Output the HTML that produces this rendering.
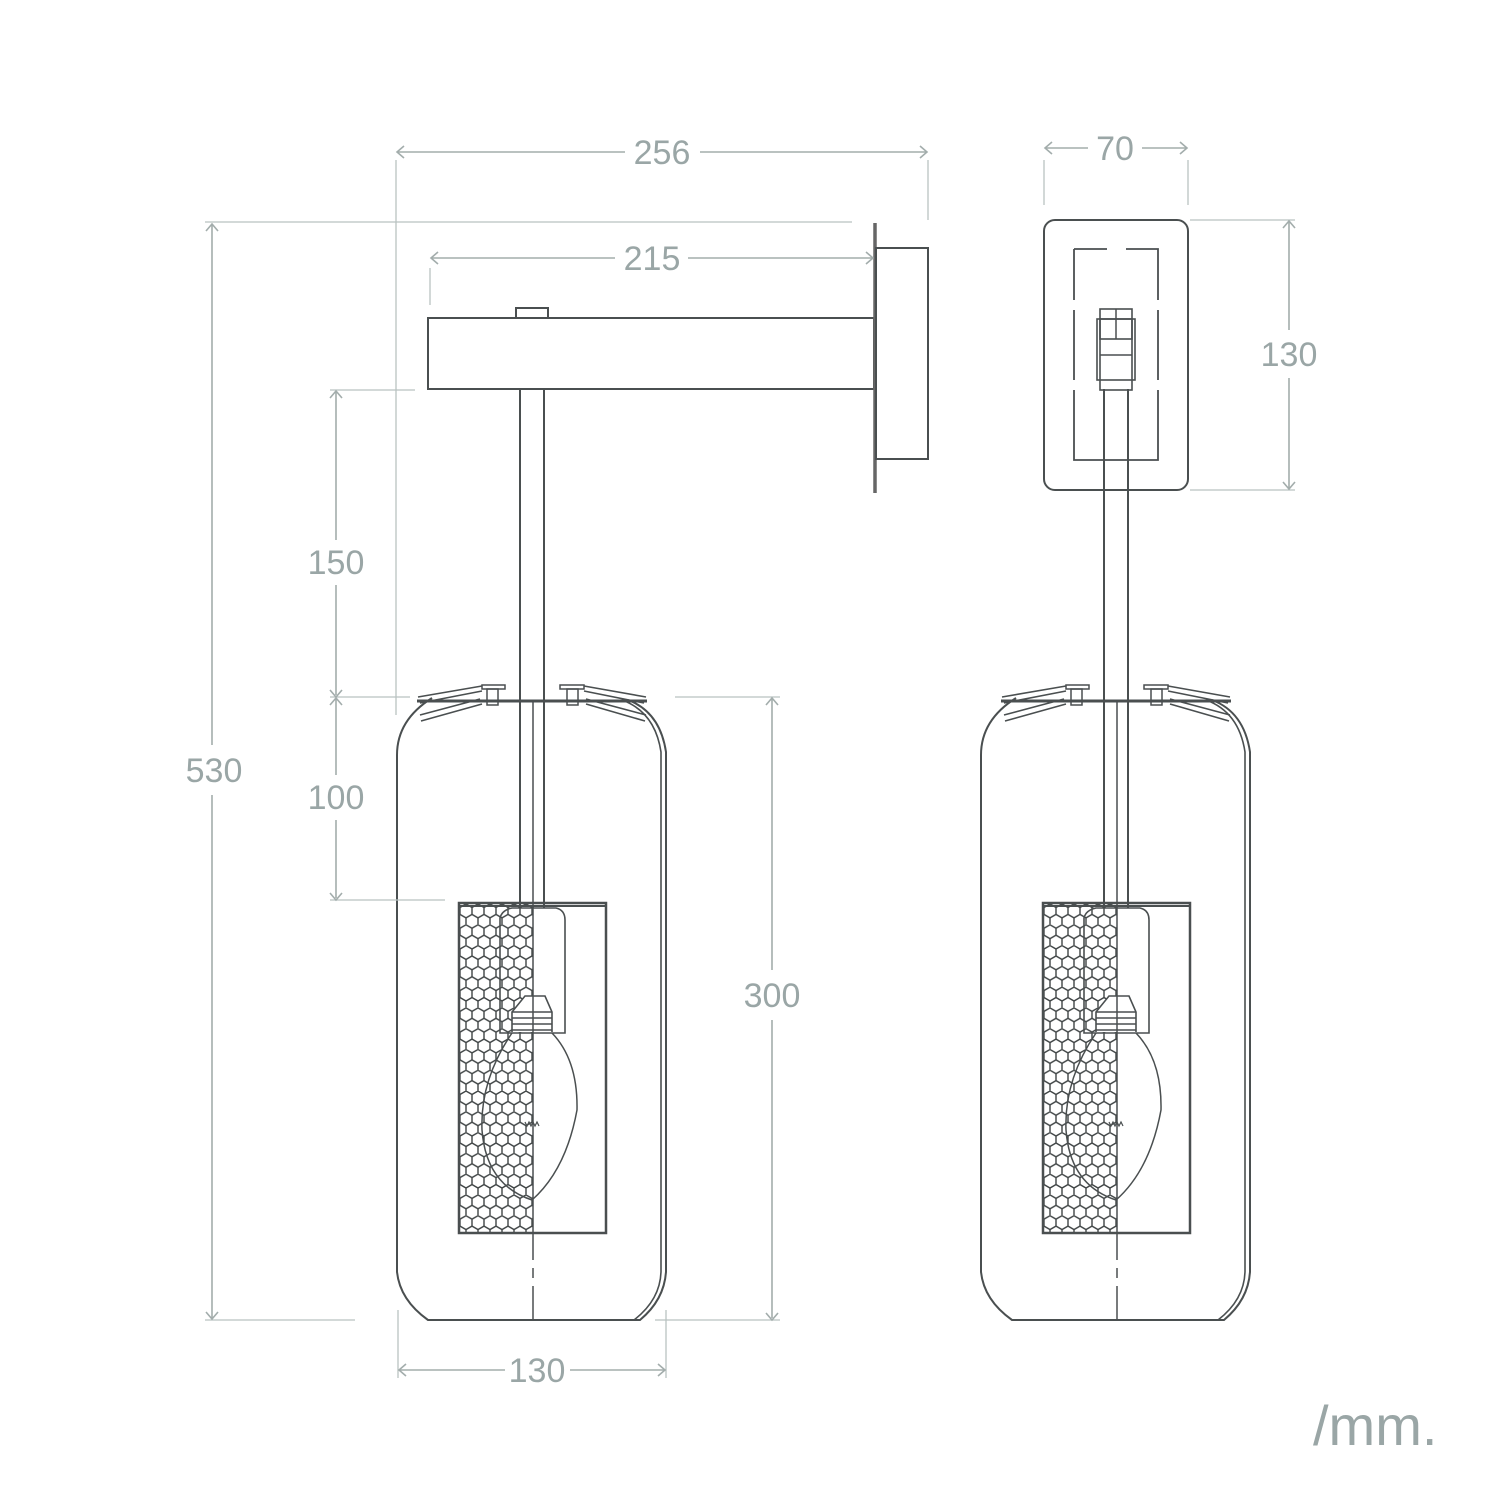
<!DOCTYPE html>
<html><head><meta charset="utf-8"><style>
html,body{margin:0;padding:0;background:#fff;}
svg{display:block;}
text{font-family:"Liberation Sans",sans-serif;fill:#9aa6a6;}
</style></head><body>
<svg width="1500" height="1500" viewBox="0 0 1500 1500" xmlns="http://www.w3.org/2000/svg">
<defs>
<pattern id="hex" x="460" y="904" width="12" height="20.78" patternUnits="userSpaceOnUse">
<path d="M6,0 L12,3.46 L12,10.39 L6,13.86 L0,10.39 L0,3.46 Z M6,13.86 L6,20.78" fill="none" stroke="#3f4445" stroke-width="1.4"/>
</pattern>
<g id="lamp" fill="none" stroke="#4a4f50" stroke-width="2">
  <path d="M432,698 Q397,720 397,755 L397,1272 Q400,1300 428,1320 L640,1320 Q664,1300 666,1272 L666,752 Q660,712 628,700"/>
  <path d="M622,700 Q655,712 661,752 L661,1272 Q660,1300 634,1320" stroke-width="1.6"/>
  <line x1="520" y1="389" x2="520" y2="908"/>
  <line x1="544" y1="389" x2="544" y2="908"/>
  <line x1="417" y1="701" x2="647" y2="701" stroke-width="3"/>
  <path d="M418,697 L482,686 M420,703 L482,691" stroke-width="1.6"/>
  <path d="M420,715 L480,699 M421,721 L482,704" stroke-width="1.6"/>
  <path d="M646,697 L584,686 M644,703 L584,691" stroke-width="1.6"/>
  <path d="M646,715 L586,699 M645,721 L586,704" stroke-width="1.6"/>
  <rect x="482" y="685" width="23" height="4" stroke-width="1.5"/>
  <rect x="487" y="689" width="11" height="16" stroke-width="1.5"/>
  <rect x="560" y="685" width="24" height="4" stroke-width="1.5"/>
  <rect x="567" y="689" width="11" height="16" stroke-width="1.5"/>
  <rect x="460" y="904" width="73" height="328" fill="url(#hex)" stroke="none"/>
  <rect x="459" y="903" width="147" height="330" stroke-width="2.5"/>
  <line x1="459" y1="906" x2="606" y2="906" stroke-width="2"/>
  <path d="M500,1033 L500,918 Q502,910 512,908 L556,908 Q565,910 565,920 L565,1033 Z" stroke-width="1.6"/>
  <path d="M512,1032 L512,1012 L525,996 L545,996 L552,1012 L552,1032" stroke-width="1.6" fill="#fff"/>
  <path d="M512,1012 L552,1012 M512,1018 L552,1018 M512,1024 L552,1024 M512,1030 L552,1030" stroke-width="1.5"/>
  <path d="M512,1033 Q480,1080 482,1130 Q486,1185 532,1200 Q566,1170 577,1110 Q578,1060 552,1033" stroke-width="1.5"/>
  <path d="M525,1122 l2,4 l2,-4 l2,4 l2,-4 l2,4 l2,-4 l2,4" stroke-width="1.2"/>
  <line x1="533" y1="905" x2="533" y2="1260" stroke-width="1.5"/>
  <line x1="533" y1="1268" x2="533" y2="1278" stroke-width="1.5"/>
  <line x1="533" y1="1286" x2="533" y2="1320" stroke-width="1.5"/>
  <line x1="533" y1="701" x2="533" y2="908" stroke-width="1.5"/>
</g>
</defs>

<g fill="none" stroke="#4a4f50" stroke-width="2">
  <rect x="428" y="318" width="446" height="71"/>
  <rect x="516" y="308" width="32" height="10"/>
  <line x1="875" y1="223" x2="875" y2="493" stroke="#666" stroke-width="3.5"/>
  <rect x="876" y="248" width="52" height="211"/>
</g>
<use href="#lamp"/>

<g fill="none" stroke="#4a4f50" stroke-width="2">
  <rect x="1044" y="220" width="144" height="270" rx="11"/>
  <path d="M1074,249 H1107 M1126,249 H1158 V300 M1158,310 V380 M1158,390 V460 H1074 V390 M1074,380 V310 M1074,300 V249" stroke-width="1.8"/>
  <rect x="1100" y="309" width="32" height="30" stroke-width="1.6"/>
  <line x1="1116" y1="309" x2="1116" y2="339" stroke-width="1.5"/>
  <rect x="1097" y="319" width="38" height="61" stroke-width="1.6"/>
  <rect x="1100" y="319" width="32" height="71" stroke-width="1.6"/>
  <line x1="1100" y1="355" x2="1132" y2="355" stroke-width="1.5"/>
</g>
<g transform="translate(584,0)"><use href="#lamp"/></g>

<g stroke="#b9c2c1" stroke-width="1.3" fill="none">
  <line x1="396" y1="160" x2="396" y2="715"/>
  <line x1="928" y1="160" x2="928" y2="220"/>
  <line x1="430" y1="268" x2="430" y2="305"/>
  <line x1="205" y1="222" x2="852" y2="222"/>
  <line x1="205" y1="1320" x2="355" y2="1320"/>
  <line x1="330" y1="390" x2="415" y2="390"/>
  <line x1="330" y1="697" x2="410" y2="697"/>
  <line x1="330" y1="900" x2="445" y2="900"/>
  <line x1="675" y1="697" x2="780" y2="697"/>
  <line x1="655" y1="1320" x2="780" y2="1320"/>
  <line x1="398" y1="1310" x2="398" y2="1378"/>
  <line x1="666" y1="1310" x2="666" y2="1378"/>
  <line x1="1044" y1="160" x2="1044" y2="205"/>
  <line x1="1188" y1="160" x2="1188" y2="205"/>
  <line x1="1190" y1="220" x2="1295" y2="220"/>
  <line x1="1190" y1="490" x2="1295" y2="490"/>
</g>
<g stroke="#a3adac" stroke-width="1.6" fill="none">
  <path d="M398,152 H625 M700,152 H926 M404,146 L397,152 L404,158 M920,146 L927,152 L920,158"/>
  <path d="M432,258 H615 M688,258 H872 M438,252 L431,258 L438,264 M866,252 L873,258 L866,264"/>
  <path d="M212,225 V745 M212,795 V1318 M206,231 L212,224 L218,231 M206,1312 L212,1319 L218,1312"/>
  <path d="M336,392 V540 M336,585 V695 M330,398 L336,391 L342,398 M330,690 L336,697 L342,690"/>
  <path d="M336,699 V775 M336,820 V898 M330,705 L336,698 L342,705 M330,893 L336,900 L342,893"/>
  <path d="M772,699 V970 M772,1020 V1318 M766,705 L772,698 L778,705 M766,1313 L772,1320 L778,1313"/>
  <path d="M400,1370 H505 M570,1370 H664 M406,1364 L399,1370 L406,1376 M658,1364 L665,1370 L658,1376"/>
  <path d="M1046,148 H1088 M1142,148 H1186 M1052,142 L1045,148 L1052,154 M1180,142 L1187,148 L1180,154"/>
  <path d="M1289,222 V330 M1289,378 V488 M1283,228 L1289,221 L1295,228 M1283,482 L1289,489 L1295,482"/>
</g>
<g font-size="34" text-anchor="middle">
  <text x="662" y="164">256</text>
  <text x="652" y="270">215</text>
  <text x="1115" y="160">70</text>
  <text x="1289" y="366">130</text>
  <text x="214" y="782">530</text>
  <text x="336" y="574">150</text>
  <text x="336" y="809">100</text>
  <text x="772" y="1007">300</text>
  <text x="537" y="1382">130</text>
</g>
<text x="1313" y="1445" font-size="56" fill="#a3acad">/mm.</text>
</svg>
</body></html>
